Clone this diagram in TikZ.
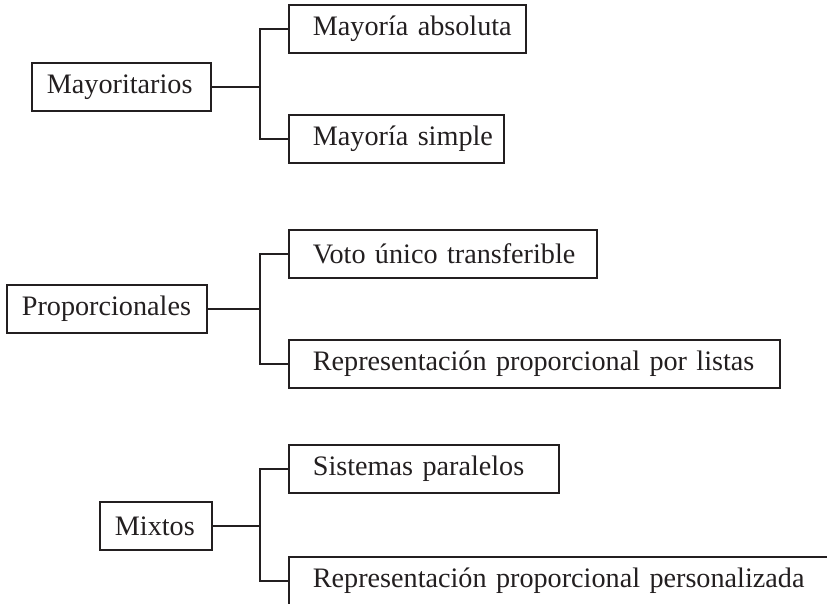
\documentclass[tikz,border=0pt]{standalone}
\usepackage{fontspec}
\setmainfont{Liberation Serif}
\definecolor{ink}{HTML}{231F20}
\begin{document}
\begin{tikzpicture}[x=1bp,y=-1bp,
  box/.style={draw=ink, line width=1.7bp, anchor=west, minimum height=48bp,
    inner ysep=0pt, inner xsep=0pt, align=left, text=ink,
    font=\fontsize{28.3}{31}\selectfont},
  pbox/.style={box, text width=#1, execute at begin node={\hspace*{15bp}}},
  cbox/.style={box, text width=#1, execute at begin node={\hspace*{24bp}}},
  link/.style={draw=ink, line width=1.7bp}]
\useasboundingbox (0,0) rectangle (827,604);
\clip (0,0) rectangle (827,604);
% parents
\node[pbox=179bp] (m) at (31,87) {Mayoritarios};
\node[pbox=200bp] (p) at (6,309) {Proporcionales};
\node[pbox=112bp] (x) at (99,526) {Mixtos};
% children
\node[cbox=237bp] (a1) at (288,29) {Mayoría absoluta};
\node[cbox=215bp] (a2) at (288,139) {Mayoría simple};
\node[cbox=308bp] (b1) at (288,254) {Voto único transferible};
\node[cbox=491bp] (b2) at (288,364) {Representación proporcional por listas};
\node[cbox=270bp] (c1) at (288,469) {Sistemas paralelos};
\node[cbox=600bp] (c2) at (288,581) {Representación proporcional personalizada};
% junctions
\coordinate (jm) at (260,87);
\coordinate (jp) at (260,309);
\coordinate (jx) at (260,526);
\draw[link] (m.east) -- (jm);
\draw[link] (a1.west) -| (jm) |- (a2.west);
\draw[link] (p.east) -- (jp);
\draw[link] (b1.west) -| (jp) |- (b2.west);
\draw[link] (x.east) -- (jx);
\draw[link] (c1.west) -| (jx) |- (c2.west);
\end{tikzpicture}
\end{document}
